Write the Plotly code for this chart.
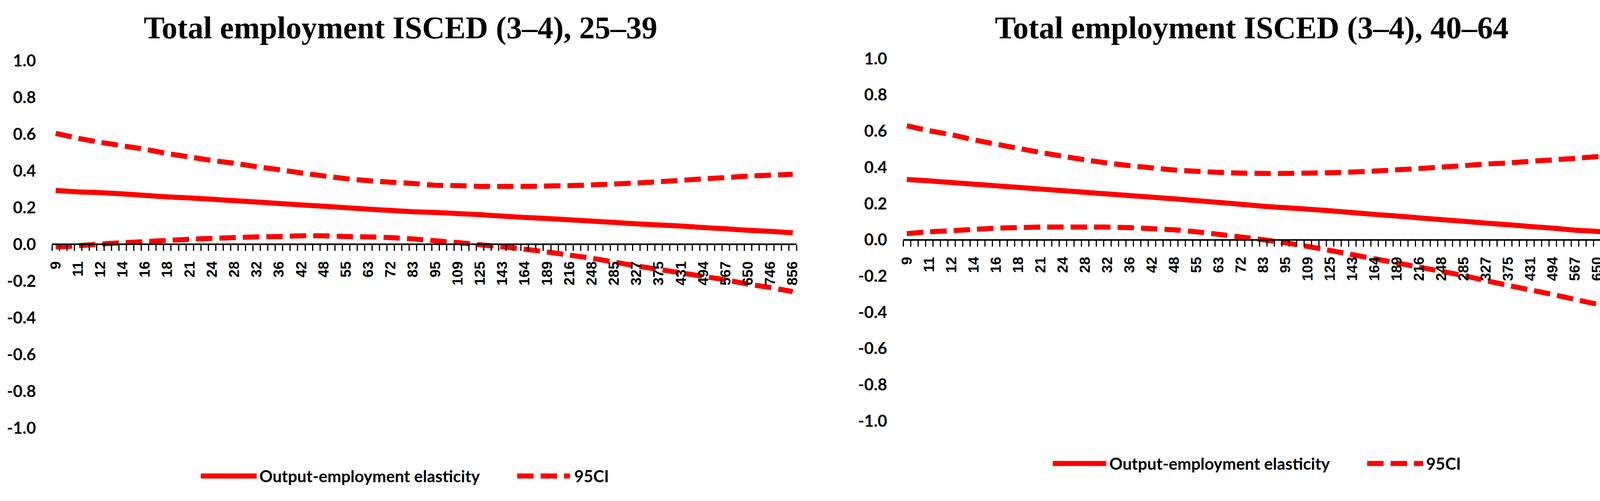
import plotly.graph_objects as go

# ---------------- data ----------------
size_labels = ["9", "11", "12", "14", "16", "18", "21", "24", "28", "32", "36", "42",
               "48", "55", "63", "72", "83", "95", "109", "125", "143", "164", "189",
               "216", "248", "285", "327", "375", "431", "494", "567", "650", "746", "856"]

elast_25_39 = [0.293, 0.285, 0.281, 0.274, 0.266, 0.258, 0.252, 0.245, 0.237, 0.230, 0.222,
               0.214, 0.207, 0.199, 0.191, 0.184, 0.177, 0.173, 0.167, 0.161, 0.153, 0.146,
               0.140, 0.133, 0.126, 0.119, 0.111, 0.105, 0.099, 0.091, 0.084, 0.076, 0.070, 0.062]
upper_25_39 = [0.604, 0.577, 0.555, 0.536, 0.517, 0.494, 0.475, 0.456, 0.441, 0.422, 0.406,
               0.388, 0.372, 0.357, 0.346, 0.338, 0.331, 0.321, 0.319, 0.315, 0.315, 0.315,
               0.317, 0.319, 0.323, 0.328, 0.334, 0.340, 0.348, 0.356, 0.363, 0.371, 0.376, 0.381]
lower_25_39 = [-0.015, -0.008, 0.001, 0.008, 0.014, 0.021, 0.027, 0.032, 0.036, 0.040, 0.042,
               0.046, 0.046, 0.042, 0.040, 0.036, 0.029, 0.019, 0.009, -0.003, -0.014, -0.027,
               -0.042, -0.059, -0.076, -0.097, -0.118, -0.137, -0.156, -0.175, -0.194, -0.217,
               -0.236, -0.258]

elast_40_64 = [0.333, 0.325, 0.316, 0.307, 0.298, 0.289, 0.280, 0.271, 0.262, 0.253, 0.244,
               0.235, 0.226, 0.216, 0.206, 0.196, 0.185, 0.177, 0.169, 0.160, 0.150, 0.140,
               0.131, 0.121, 0.111, 0.102, 0.092, 0.083, 0.073, 0.064, 0.053, 0.046, 0.037, 0.029]
upper_40_64 = [0.629, 0.602, 0.580, 0.552, 0.528, 0.505, 0.482, 0.461, 0.441, 0.424, 0.409,
               0.397, 0.385, 0.378, 0.372, 0.368, 0.366, 0.366, 0.368, 0.370, 0.374, 0.379,
               0.386, 0.393, 0.401, 0.409, 0.418, 0.424, 0.433, 0.441, 0.449, 0.459, 0.467, 0.476]
lower_40_64 = [0.034, 0.044, 0.050, 0.057, 0.064, 0.067, 0.070, 0.070, 0.070, 0.070, 0.067,
               0.061, 0.055, 0.044, 0.030, 0.015, 0.000, -0.017, -0.037, -0.059, -0.082, -0.105,
               -0.128, -0.151, -0.174, -0.198, -0.225, -0.252, -0.277, -0.302, -0.329, -0.356,
               -0.379, -0.406]

y_tick_values = [-1.0, -0.8, -0.6, -0.4, -0.2, 0.0, 0.2, 0.4, 0.6, 0.8, 1.0]
y_tick_labels = ["-1.0", "-0.8", "-0.6", "-0.4", "-0.2", "0.0", "0.2", "0.4", "0.6", "0.8", "1.0"]

titles = ["Total employment ISCED (3\u20134), 25\u201339", "Total employment ISCED (3\u20134), 40\u201364"]
legend_names = ["Output-employment elasticity", "95CI"]

# axis has 100 categories, every 3rd labelled
N_CATEGORIES = 100
LABEL_STEP = 3
x_pos = [i * LABEL_STEP for i in range(len(size_labels))]

# ---------------- style ----------------
W, H = 4240, 1282
RED = "#FF0000"
LW = 13
DASH = "42px,18px"
SANS = "Lato"
panels = [
    dict(elast=elast_25_39, up=upper_25_39, lo=lower_25_39, title=titles[0],
         xdom=[133 / W, 2039 / W], ydom=[1 - 1095 / H, 1 - 155 / H],
         title_x=1025 / W, leg_y=1 - 1218 / H,
         leg=[514 / W, 657 / W, 662 / W, 1324 / W, 1459 / W, 1468 / W]),
    dict(elast=elast_40_64, up=upper_40_64, lo=lower_40_64, title=titles[1],
         xdom=[2312 / W, 4212 / W], ydom=[1 - 1077 / H, 1 - 150 / H],
         title_x=3204 / W, leg_y=1 - 1186 / H,
         leg=[2695 / W, 2832 / W, 2838 / W, 3500 / W, 3643 / W, 3649 / W]),
]

fig = go.Figure()
annotations = []
shapes = []
for i, p in enumerate(panels):
    sfx = "" if i == 0 else str(i + 1)
    xa, ya = "x" + sfx, "y" + sfx
    for yvals, dash in [(p["up"], DASH), (p["lo"], DASH), (p["elast"], "solid")]:
        fig.add_trace(go.Scatter(
            x=x_pos, y=yvals, xaxis=xa, yaxis=ya, mode="lines",
            line=dict(color=RED, width=LW, dash=dash, shape="spline", smoothing=0.6),
            showlegend=False, hoverinfo="skip"))
    ymid = (p["ydom"][0] + p["ydom"][1]) / 2
    fig.update_layout(**{
        "xaxis" + sfx: dict(
            domain=p["xdom"], anchor="free", position=ymid, automargin=False,
            range=[-0.5, N_CATEGORIES - 0.5], tickmode="array",
            tickvals=x_pos, ticktext=size_labels, tickangle=-90,
            ticks="outside", ticklen=15, tickcolor="rgba(0,0,0,0)", tickwidth=3,
            ticklabelstandoff=12,
            minor=dict(tick0=-0.5, dtick=1, ticks="outside", ticklen=15,
                       tickwidth=3, tickcolor="black"),
            showline=True, linewidth=4, linecolor="black",
            showgrid=False, zeroline=False,
            tickfont=dict(family="Liberation Sans", size=37, color="black", weight="bold"),
        ),
        "yaxis" + sfx: dict(
            domain=p["ydom"], anchor=xa, range=[-1.0, 1.0], automargin=False,
            tickmode="array", tickvals=y_tick_values, ticktext=y_tick_labels,
            ticks="", showline=False, showgrid=False, zeroline=False,
            ticklabelstandoff=40,
            tickfont=dict(family=SANS, size=42, color="black", weight="bold"),
        ),
    })
    annotations.append(dict(
        text=p["title"], xref="paper", yref="paper", x=p["title_x"], y=1 - 72 / H,
        xanchor="center", yanchor="middle", showarrow=False,
        font=dict(family="Liberation Serif", size=80, color="black", weight="bold")))
    # legend (drawn as in the reference: long line samples + labels)
    l = p["leg"]
    shapes.append(dict(type="line", xref="paper", yref="paper", x0=l[0], x1=l[1],
                       y0=p["leg_y"], y1=p["leg_y"], line=dict(color=RED, width=LW)))
    shapes.append(dict(type="line", xref="paper", yref="paper", x0=l[3], x1=l[4],
                       y0=p["leg_y"], y1=p["leg_y"], line=dict(color=RED, width=LW, dash=DASH)))
    annotations.append(dict(
        text=legend_names[0], xref="paper", yref="paper", x=l[2], y=p["leg_y"],
        xanchor="left", yanchor="middle", showarrow=False,
        font=dict(family=SANS, size=42, color="black", weight="bold")))
    annotations.append(dict(
        text=legend_names[1], xref="paper", yref="paper", x=l[5], y=p["leg_y"],
        xanchor="left", yanchor="middle", showarrow=False,
        font=dict(family=SANS, size=42, color="black", weight="bold")))

fig.update_layout(
    width=W, height=H, margin=dict(l=0, r=0, t=0, b=0),
    paper_bgcolor="white", plot_bgcolor="white",
    showlegend=False, annotations=annotations, shapes=shapes,
)

fig.write_html("out.html", config={"displayModeBar": False},
               post_script="document.body.style.margin='0';document.body.style.overflow='hidden';")
